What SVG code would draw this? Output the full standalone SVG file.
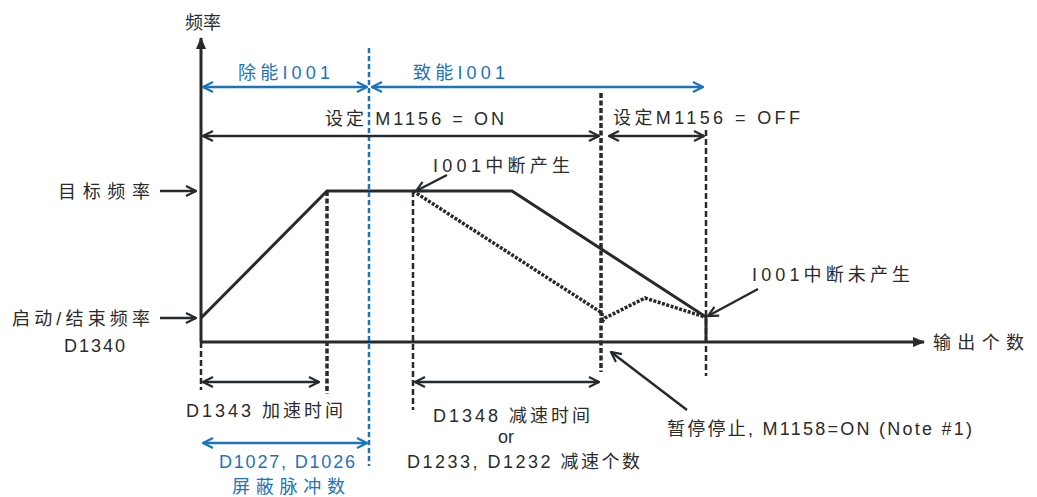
<svg xmlns="http://www.w3.org/2000/svg" width="1037" height="497" viewBox="0 0 1037 497">
<defs>
<style>
text{font-family:"Liberation Sans","Noto Sans CJK SC",sans-serif;fill:#2b2b2b;font-size:18px}
.b{fill:#1b74bd}
.ln{stroke:#262a2c;stroke-width:3;fill:none}
.ar{stroke:#262a2c;stroke-width:2.5;fill:none}
.ab{stroke:#1b74bd;stroke-width:2.5;fill:none}
.dash{stroke:#262a2c;stroke-width:2.5;stroke-dasharray:6,3;fill:none}
.dot{stroke:#262a2c;stroke-width:3.5;stroke-dasharray:3,1.5;fill:none}
.vdot{stroke:#262a2c;stroke-width:3.5;stroke-dasharray:5,2.5;fill:none}
</style>
<marker id="ob" viewBox="0 0 12 12" refX="11" refY="6" markerWidth="12" markerHeight="12" markerUnits="userSpaceOnUse" orient="auto-start-reverse"><path d="M1,1 L11,6 L1,11" fill="none" stroke="#262a2c" stroke-width="2.2"/></marker>
<marker id="oblue" viewBox="0 0 12 12" refX="11" refY="6" markerWidth="12" markerHeight="12" markerUnits="userSpaceOnUse" orient="auto-start-reverse"><path d="M1,1 L11,6 L1,11" fill="none" stroke="#1b74bd" stroke-width="2.2"/></marker>
<marker id="fill" viewBox="0 0 12 12" refX="11" refY="6" markerWidth="12" markerHeight="12" markerUnits="userSpaceOnUse" orient="auto"><path d="M0,1 L12,6 L0,11 Z" fill="#262a2c"/></marker>
</defs>

<g id="axes">
<line class="ln" x1="201" y1="342" x2="201" y2="38" marker-end="url(#fill)"/>
<line class="ln" x1="201" y1="342" x2="924" y2="342" marker-end="url(#fill)"/>
<text x="185" y="29">频率</text>
<text x="933" y="349" textLength="91" lengthAdjust="spacing">输出个数</text>
</g>

<g id="curves">
<polyline class="ln" points="201,318 327,191 512,191 706,317 706,342"/>
<polyline class="dot" points="413,191 602,313 602,322 605,318 645,298 705,317"/>
</g>

<g id="guides">
<line x1="369" y1="48" x2="369" y2="466" stroke="#1b74bd" stroke-width="2.5" stroke-dasharray="5,3"/>
<line class="vdot" x1="601" y1="93" x2="601" y2="372"/>
<line class="dash" x1="706" y1="130" x2="706" y2="376"/>
<line class="vdot" x1="327" y1="191" x2="327" y2="394"/>
<line class="dash" x1="413" y1="191" x2="413" y2="410"/>
<line class="dash" x1="201" y1="342" x2="201" y2="390"/>
</g>

<g id="connectors">
<line class="ab" x1="203" y1="87" x2="367" y2="87" marker-start="url(#oblue)" marker-end="url(#oblue)"/>
<line class="ab" x1="372" y1="87" x2="703" y2="87" marker-start="url(#oblue)" marker-end="url(#oblue)"/>
<line class="ar" x1="203" y1="136" x2="599" y2="136" marker-start="url(#ob)" marker-end="url(#ob)"/>
<line class="ar" x1="609" y1="136" x2="704" y2="136" marker-start="url(#ob)" marker-end="url(#ob)"/>
<line class="ar" x1="203" y1="382" x2="319" y2="382" marker-start="url(#ob)" marker-end="url(#ob)"/>
<line class="ar" x1="415" y1="382" x2="599" y2="382" marker-start="url(#ob)" marker-end="url(#ob)"/>
<line class="ab" x1="203" y1="443" x2="367" y2="443" marker-start="url(#oblue)" marker-end="url(#oblue)"/>
<line class="ar" x1="160" y1="191" x2="196" y2="191" marker-end="url(#ob)"/>
<line class="ar" x1="160" y1="318" x2="196" y2="318" marker-end="url(#ob)"/>
<line class="ar" x1="447" y1="175" x2="416" y2="191" marker-end="url(#ob)"/>
<line class="ar" x1="758" y1="289" x2="708" y2="316" marker-end="url(#ob)"/>
<line class="ar" x1="687" y1="410" x2="611" y2="352" marker-end="url(#ob)"/>
</g>

<g id="labels">
<text class="b" x="238" y="79" textLength="92" lengthAdjust="spacing">除能I001</text>
<text class="b" x="413" y="79" textLength="92" lengthAdjust="spacing">致能I001</text>
<text x="325" y="125" textLength="179" lengthAdjust="spacing">设定 M1156 = ON</text>
<text x="613" y="124" textLength="187" lengthAdjust="spacing">设定M1156 = OFF</text>
<text x="433" y="172" textLength="137" lengthAdjust="spacing">I001中断产生</text>
<text x="752" y="281" textLength="158" lengthAdjust="spacing">I001中断未产生</text>
<text x="58" y="198" textLength="92" lengthAdjust="spacing">目标频率</text>
<text x="12" y="325" textLength="138" lengthAdjust="spacing">启动/结束频率</text>
<text x="64" y="352" textLength="61" lengthAdjust="spacing">D1340</text>
<text x="186" y="417" textLength="157" lengthAdjust="spacing">D1343 加速时间</text>
<text class="b" x="219" y="468" textLength="136" lengthAdjust="spacing">D1027, D1026</text>
<text class="b" x="232" y="493" textLength="113" lengthAdjust="spacing">屏蔽脉冲数</text>
<text x="433" y="422" textLength="157" lengthAdjust="spacing">D1348 减速时间</text>
<text x="498" y="443">or</text>
<text x="407" y="468" textLength="233" lengthAdjust="spacing">D1233, D1232 减速个数</text>
<text x="667" y="435" textLength="305" lengthAdjust="spacing">暂停停止, M1158=ON (Note #1)</text>
</g>
</svg>
